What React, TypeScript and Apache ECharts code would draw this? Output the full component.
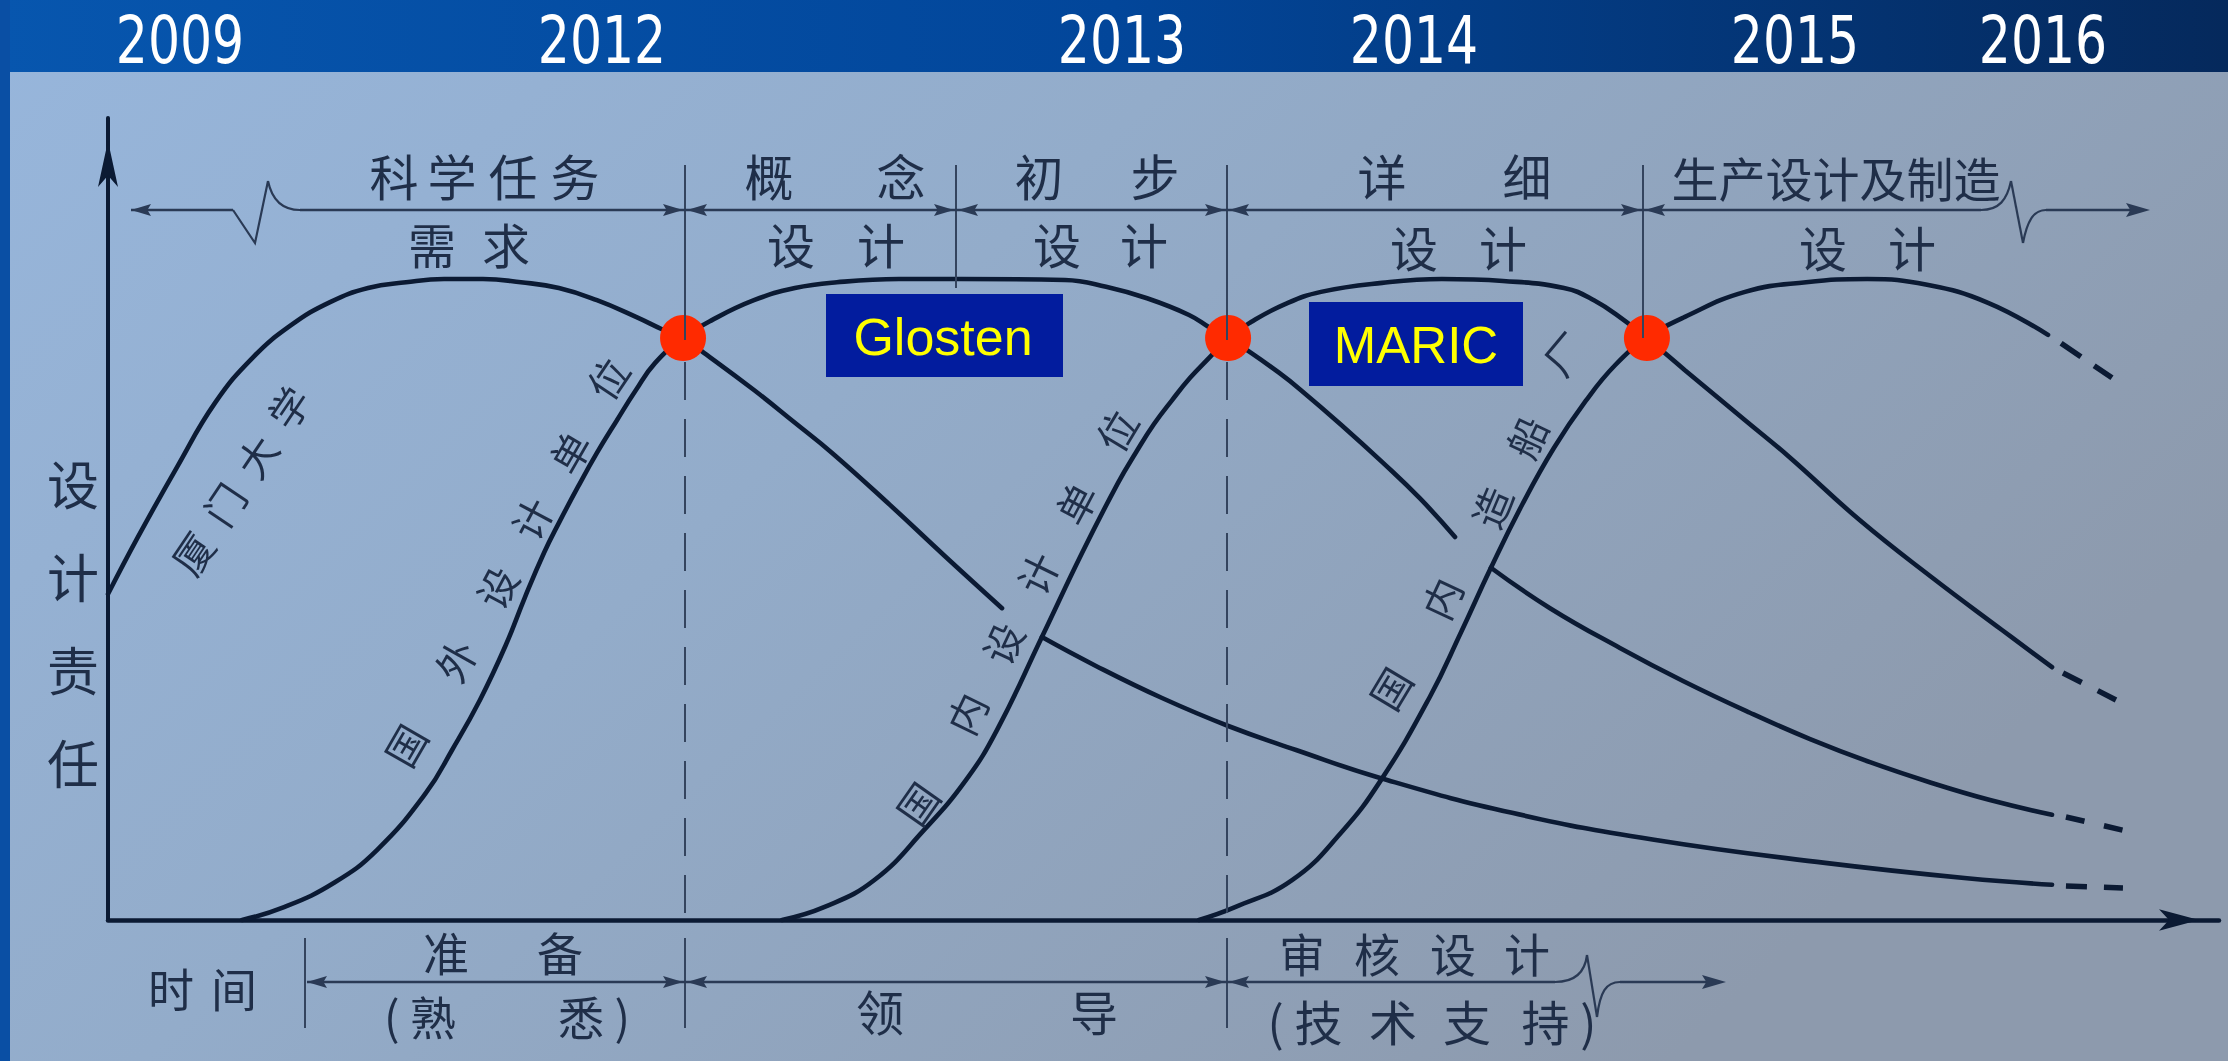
import React, { useEffect, useRef } from 'react';
import * as echarts from 'echarts';

// ---------------- data (x: time units 0-100, y: design responsibility 0-125) ----------------
const yearLabels = ['2009', '2012', '2013', '2014', '2015', '2016'];

// 厦门大学 (science mission / owner)
const xiamenMain = [
  [0, 50.8], [1.42, 59.7], [3.27, 70.6], [5.07, 80.6], [6.87, 87.7], [8.67, 92.7], [10.52, 96.3],
  [12.32, 98.5], [14.12, 99.4], [15.92, 99.9], [17.76, 99.9], [19.56, 99.4], [21.36, 98.5],
  [23.16, 96.6], [25.01, 94.0], [26.29, 92.0], [27.24, 90.7], [28.23, 88.4], [30.6, 82.6],
  [32.54, 77.5], [34.3, 72.8], [37.04, 64.7], [39.65, 56.7], [42.35, 48.6],
];
const xiamenTail = [
  [44.24, 44.1], [46.8, 39.6], [49.93, 34.6], [53.1, 30.2], [56.28, 26.5], [60.3, 22.1],
  [66.51, 16.7], [73.24, 12.5], [81.34, 8.9], [88.06, 6.5], [92.09, 5.5],
];
const xiamenTrail = [[92.75, 5.3], [95.45, 5.0]];

// 国外设计单位 (Glosten)
const foreignMain = [
  [6.35, 0], [8.34, 2.0], [10.71, 5.8], [12.74, 10.9], [15.06, 19.8], [16.3, 26.5], [17.62, 34.3],
  [18.85, 42.9], [19.75, 50.3], [20.65, 57.2], [21.36, 61.9], [22.26, 67.5], [23.16, 72.8],
  [24.11, 77.9], [25.01, 82.6], [25.91, 86.8], [27.24, 90.7], [28.61, 93.5], [30.6, 96.6],
  [32.54, 98.5], [34.53, 99.4], [37.47, 99.9], [40.41, 99.9], [45.33, 99.75], [47.28, 98.7],
  [49.22, 96.9], [51.21, 94.3], [52.2, 92.3], [53.06, 90.7], [54.15, 88.4], [55.47, 85.3],
  [56.47, 82.7], [58.41, 77.2], [60.35, 71.4], [62.15, 65.7], [63.81, 59.7],
];
const foreignTail = [
  [65.51, 54.9], [68.31, 48.6], [71.62, 42.4], [74.61, 37.25], [77.78, 32.3], [80.63, 28.2],
  [83.47, 24.6], [86.36, 21.4], [89.15, 18.7], [92.09, 16.4],
];
const foreignTrail = [[92.75, 16.05], [95.45, 14.0]];

// 国内设计单位 (MARIC)
const domesticMain = [
  [31.93, 0], [33.92, 2.0], [36.29, 6.2], [38.65, 14.0], [40.64, 21.8], [42.11, 29.6], [44.24, 44.1],
  [46.14, 57.2], [47.84, 68.1], [48.7, 72.9], [49.55, 77.3], [50.4, 81.0], [51.26, 84.5],
  [52.16, 87.6], [53.06, 90.7], [54.15, 93.2], [55.76, 96.0], [57.46, 97.9], [60.35, 99.3],
  [63.19, 99.9], [66.08, 99.6], [68.97, 98.5], [70.39, 96.6], [71.81, 93.5], [72.9, 90.7],
  [74.7, 85.7], [76.27, 81.4], [77.55, 77.9], [79.63, 72.2], [82.99, 62.3], [86.36, 53.5],
  [89.72, 45.2], [92.09, 39.4],
];
const domesticTrail = [[92.61, 38.5], [95.12, 34.3]];

// 国内造船厂 (shipyard)
const shipyardMain = [
  [51.68, 0], [53.39, 2.0], [56.09, 6.2], [58.41, 13.6], [60.3, 21.8], [62.62, 34.8], [64.1, 44.9],
  [65.51, 54.9], [67.0, 64.8], [68.5, 73.6], [70.0, 80.9], [71.4, 86.5], [72.9, 90.7],
  [74.7, 94.0], [77.55, 97.9], [80.44, 99.4], [83.33, 99.9], [86.17, 99.0], [89.06, 96.2],
  [91.9, 91.2],
];
const shipyardTrail = [[92.52, 89.9], [94.93, 84.5]];

// hand-over points (red dots)
const handoverPoints = [[27.24, 90.7], [53.06, 90.7], [72.9, 90.7]];

// ---------------- styles ----------------
const W = 2228;
const H = 1061;
const INK = '#0B1A33';
const LABEL = '#1F2E48';
const DIM = '#2A3A55';
const VL = '#34445E';
const CJK = '"Noto Sans CJK SC", "Noto Sans", sans-serif';
const NARROW = '"DejaVu Sans Condensed", "Liberation Sans Narrow", sans-serif';
const SANS = '"Liberation Sans", "DejaVu Sans", sans-serif';

function txt(text: string, x: number, y: number, size: number, opt: any = {}) {
  return {
    type: 'text',
    x,
    y,
    rotation: opt.rot ? (opt.rot * Math.PI) / 180 : 0,
    scaleX: opt.scaleX ?? 1,
    z: opt.z ?? 20,
    silent: true,
    style: {
      text,
      fill: opt.fill || LABEL,
      fontSize: size,
      fontFamily: opt.family || CJK,
      fontWeight: 'normal',
      align: 'center',
      verticalAlign: 'middle',
      textAlign: 'center',
      textVerticalAlign: 'middle',
    },
  };
}

function seg(x1: number, y1: number, x2: number, y2: number, w = 2.6, color = DIM, dash?: number[]) {
  return {
    type: 'line',
    z: 15,
    silent: true,
    shape: { x1, y1, x2, y2 },
    style: { stroke: color, lineWidth: w, lineDash: dash },
  };
}

function bez(x1: number, y1: number, c1x: number, c1y: number, c2x: number, c2y: number, x2: number, y2: number) {
  return {
    type: 'bezierCurve',
    z: 15,
    silent: true,
    shape: { x1, y1, cpx1: c1x, cpy1: c1y, cpx2: c2x, cpy2: c2y, x2, y2 },
    style: { stroke: DIM, lineWidth: 2.2, fill: null },
  };
}

function head(tipX: number, y: number, dir: number, len = 20, half = 6) {
  return {
    type: 'polygon',
    z: 16,
    silent: true,
    shape: {
      points: [
        [tipX, y],
        [tipX - dir * len, y - half],
        [tipX - dir * len * 0.82, y],
        [tipX - dir * len, y + half],
      ],
    },
    style: { fill: DIM },
  };
}

function buildGraphic() {
  const g: any[] = [];
  // backgrounds
  g.push({
    type: 'rect', z: -10, silent: true,
    shape: { x: 0, y: 0, width: W, height: H },
    style: {
      fill: new echarts.graphic.LinearGradient(0, 0, 1, 0.5, [
        { offset: 0, color: '#97B6DC' },
        { offset: 0.45, color: '#93ACCA' },
        { offset: 1, color: '#8D9AAD' },
      ]),
    },
  });
  g.push({
    type: 'rect', z: -9, silent: true,
    shape: { x: 0, y: 0, width: W, height: 72 },
    style: {
      fill: new echarts.graphic.LinearGradient(0, 0, 1, 0, [
        { offset: 0, color: '#0756AE' },
        { offset: 0.5, color: '#02469A' },
        { offset: 1, color: '#05295C' },
      ]),
    },
  });
  g.push({
    type: 'rect', z: -9, silent: true,
    shape: { x: 0, y: 0, width: 10, height: H },
    style: { fill: '#0A4FA4' },
  });

  // years
  const yearX = [180, 602, 1122, 1414, 1795, 2043];
  yearLabels.forEach((t, i) => g.push(txt(t, yearX[i], 40, 66, { fill: '#FFFFFF', family: NARROW, scaleX: 0.85 })));

  // vertical stage separators
  const dash = [38, 19];
  g.push(seg(685, 165, 685, 340, 2, VL));
  g.push(seg(685, 362, 685, 918, 2, VL, dash));
  g.push(seg(685, 938, 685, 1028, 2, VL));
  g.push(seg(956, 165, 956, 288, 2, VL));
  g.push(seg(1227, 165, 1227, 340, 2, VL));
  g.push(seg(1227, 362, 1227, 918, 2, VL, dash));
  g.push(seg(1227, 938, 1227, 1028, 2, VL));
  g.push(seg(1643, 165, 1643, 338, 2, VL));
  g.push(seg(305, 938, 305, 1028, 2, VL));

  // top dimension line
  const ty = 210;
  g.push(seg(131, ty, 233, ty));
  g.push({
    type: 'polyline', z: 15, silent: true,
    shape: { points: [[233, ty], [255, 243], [268, 181]] },
    style: { stroke: DIM, lineWidth: 2.2, fill: null },
  });
  g.push(bez(268, 181, 272, 200, 282, ty, 300, ty));
  g.push(seg(300, ty, 1981, ty));
  g.push(bez(1981, ty, 1999, ty, 2007, 200, 2011, 181));
  g.push(seg(2011, 181, 2023, 243, 2.2));
  g.push(bez(2023, 243, 2027, 222, 2033, ty, 2046, ty));
  g.push(seg(2046, ty, 2140, ty));
  g.push(head(131, ty, -1));
  [685, 956, 1227, 1643].forEach((x) => {
    g.push(head(x - 2, ty, 1));
    g.push(head(x + 2, ty, -1));
  });
  g.push(head(2150, ty, 1, 24, 7));

  // bottom dimension line
  const by = 982;
  g.push(seg(307, by, 1555, by));
  g.push(bez(1555, by, 1576, by, 1585, 972, 1587, 955));
  g.push(seg(1587, 955, 1597, 1017, 2.2));
  g.push(bez(1597, 1017, 1600, 992, 1606, by, 1620, by));
  g.push(seg(1620, by, 1718, by));
  g.push(head(307, by, -1));
  [685, 1227].forEach((x) => {
    g.push(head(x - 2, by, 1));
    g.push(head(x + 2, by, -1));
  });
  g.push(head(1726, by, 1, 24, 7));

  // top stage labels
  const r1 = 174;
  const r2 = 243;
  [['科', 394], ['学', 452], ['任', 513], ['务', 575], ['概', 769], ['念', 901], ['初', 1039], ['步', 1155], ['详', 1382], ['细', 1527]]
    .forEach(([t, x]) => g.push(txt(t as string, x as number, r1, 49)));
  g.push(txt('生产设计及制造', 1836, 176, 47));
  [['需', 432], ['求', 506], ['设', 791], ['计', 881], ['设', 1057], ['计', 1144]]
    .forEach(([t, x]) => g.push(txt(t as string, x as number, r2, 48)));
  [['设', 1414], ['计', 1503], ['设', 1823], ['计', 1912]]
    .forEach(([t, x]) => g.push(txt(t as string, x as number, r2 + 3, 48)));

  // bottom labels
  g.push(txt('时', 171, 987, 46));
  g.push(txt('间', 234, 987, 46));
  g.push(txt('准', 446, 951, 46));
  g.push(txt('备', 560, 951, 46));
  g.push(txt('( 熟', 420, 1015, 46));
  g.push(txt('悉 )', 594, 1015, 46));
  g.push(txt('领', 880, 1010, 48));
  g.push(txt('导', 1094, 1010, 48));
  [['审', 1302], ['核', 1377], ['设', 1453], ['计', 1527]].forEach(([t, x]) => g.push(txt(t as string, x as number, 952, 46)));
  g.push(txt('( 技', 1305, 1020, 48));
  g.push(txt('术', 1393, 1020, 48));
  g.push(txt('支', 1467, 1020, 48));
  g.push(txt('持 )', 1559, 1020, 48));

  // y axis title
  [['设', 482], ['计', 575], ['责', 668], ['任', 761]].forEach(([t, y]) => g.push(txt(t as string, 73, y as number, 52)));

  // curve labels
  const cl: [string, number, number, number][] = [
    ['厦', 192, 553, 56], ['门', 224, 504, 56], ['大', 256, 456, 56], ['学', 288, 407, 56],
    ['国', 405, 745, 60], ['外', 455, 660, 61], ['设', 496, 587, 62], ['计', 531, 518, 62], ['单', 569, 452, 60], ['位', 607, 378, 56],
    ['国', 917, 803, 55], ['内', 966, 713, 64], ['设', 1002, 643, 65], ['计', 1037, 573, 64], ['单', 1075, 503, 62], ['位', 1116, 430, 59],
    ['国', 1390, 688, 59], ['内', 1441, 598, 65], ['造', 1491, 507, 67], ['船', 1526, 437, 65], ['厂', 1564, 353, 50],
  ];
  cl.forEach(([t, x, y, r]) => g.push(txt(t, x, y, 40, { rot: r })));

  // company boxes
  g.push({ type: 'rect', z: 30, silent: true, shape: { x: 826, y: 294, width: 237, height: 83 }, style: { fill: '#021C9E' } });
  g.push(txt('Glosten', 943, 337, 52, { fill: '#FFFF00', family: SANS, z: 31 }));
  g.push({ type: 'rect', z: 30, silent: true, shape: { x: 1309, y: 302, width: 214, height: 84 }, style: { fill: '#021C9E' } });
  g.push(txt('MARIC', 1416, 345, 51, { fill: '#FFFF00', family: SANS, z: 31 }));

  return g;
}

function curve(data: number[][], name: string) {
  return {
    type: 'line',
    name,
    data,
    smooth: 0.45,
    symbol: 'none',
    showSymbol: false,
    silent: true,
    clip: false,
    z: 3,
    lineStyle: { color: INK, width: 4.6, cap: 'round' },
  };
}

function trail(data: number[][], name: string, dash: number[]) {
  return {
    type: 'line',
    name,
    data,
    smooth: false,
    symbol: 'none',
    showSymbol: false,
    silent: true,
    clip: false,
    z: 3,
    lineStyle: { color: INK, width: 5.5, type: dash, cap: 'butt' },
  };
}

export default function App() {
  const ref = useRef<HTMLDivElement>(null);
  useEffect(() => {
    if (!ref.current) return;
    const chart = echarts.init(ref.current, undefined, { renderer: 'svg', width: W, height: H });
    const hiddenAxis = {
      axisTick: { show: false },
      axisLabel: { show: false },
      splitLine: { show: false },
    };
    chart.setOption({
      animation: false,
      backgroundColor: 'transparent',
      grid: { left: 108, top: 118, width: 2111, height: 802, containLabel: false },
      xAxis: {
        type: 'value', min: 0, max: 100, ...hiddenAxis,
        axisLine: {
          show: true, onZero: false, symbol: ['none', 'arrow'], symbolSize: [16, 40], symbolOffset: [0, -20],
          lineStyle: { color: INK, width: 4.5 },
        },
      },
      yAxis: {
        type: 'value', min: 0, max: 125, ...hiddenAxis,
        axisLine: {
          show: true, onZero: false, symbol: ['none', 'arrow'], symbolSize: [15, 46], symbolOffset: [0, -23],
          lineStyle: { color: INK, width: 4 },
        },
      },
      series: [
        curve(xiamenMain, '厦门大学'),
        curve(xiamenTail, '厦门大学-后期'),
        trail(xiamenTrail, '厦门大学-延续', [21, 17]),
        curve(foreignMain, '国外设计单位'),
        curve(foreignTail, '国外设计单位-后期'),
        trail(foreignTrail, '国外设计单位-延续', [19, 20]),
        curve(domesticMain, '国内设计单位'),
        trail(domesticTrail, '国内设计单位-延续', [21, 18]),
        curve(shipyardMain, '国内造船厂'),
        trail(shipyardTrail, '国内造船厂-延续', [24, 16]),
        {
          type: 'scatter',
          name: '交接点',
          data: handoverPoints,
          symbolSize: 46,
          silent: true,
          z: 6,
          itemStyle: { color: '#FF2A00', opacity: 1 },
        },
      ],
      graphic: { elements: buildGraphic() },
    });
    return () => chart.dispose();
  }, []);
  return <div ref={ref} style={{ position: 'fixed', left: 0, top: 0, width: W, height: H }} />;
}
